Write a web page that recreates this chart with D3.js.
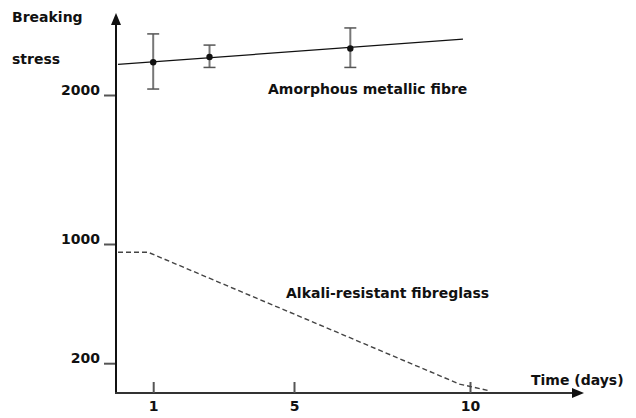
<!DOCTYPE html>
<meta charset="utf-8">
<style>
body { margin: 0; background: #fff; }
text { font-family: "DejaVu Sans", sans-serif; font-weight: bold; font-size: 14px; fill: #111; }
.axis line { stroke: #555; stroke-width: 2; }
.axis path { display: none; }
.axis text { font-family: "DejaVu Sans", sans-serif; font-weight: bold; font-size: 14px; fill: #111; }
</style>
<body>
<script src="https://cdn.jsdelivr.net/npm/d3@7"></script>
<script>

// amorphous metallic fibre measurements (days, breaking stress, error bar ends)
var metalDays = [1, 2.6, 6.6];
var metalStress = [2220, 2255, 2312];
var metalLow = [2040, 2185, 2185];
var metalHigh = [2410, 2335, 2450];
// straight trend line through them
var metalLineDays = [0, 9.8];
var metalLineStress = [2205, 2375];

// alkali-resistant fibreglass (dashed)
var glassDays = [0, 0.85, 9.7, 10.55];
var glassStress = [945, 945, 60, 15];

var xTicks = [1, 5, 10];
var yTicks = [200, 1000, 2000];

var width = 636, height = 418;

var x = d3.scaleLinear().domain([0, 10]).range([118, 470]);
var y = d3.scaleLinear().domain([0, 2000]).range([393, 95]);

var svg = d3.select("body").append("svg")
    .attr("width", width)
    .attr("height", height);

var x0 = 116, y0 = 393;

// axes with arrows
svg.append("line")
    .attr("x1", x0).attr("y1", y0 + 1)
    .attr("x2", x0).attr("y2", 22)
    .attr("stroke", "#111").attr("stroke-width", 2);
svg.append("path")
    .attr("d", "M" + (x0 - 5) + ",25 L" + x0 + ",13 L" + (x0 + 5) + ",25 Z")
    .attr("fill", "#111");

svg.append("line")
    .attr("x1", x0 - 1).attr("y1", y0)
    .attr("x2", 576).attr("y2", y0)
    .attr("stroke", "#333").attr("stroke-width", 2);
svg.append("path")
    .attr("d", "M572," + (y0 - 5) + " L584," + y0 + " L572," + (y0 + 5) + " Z")
    .attr("fill", "#111");

var yAxis = svg.append("g")
    .attr("class", "axis")
    .attr("transform", "translate(" + (x0 - 1) + ",0)")
    .call(d3.axisLeft(y).tickValues(yTicks).tickFormat(d3.format("d")).tickSize(11).tickPadding(4));
yAxis.selectAll("text").attr("dy", "0").attr("y", -1);
yAxis.selectAll("line").attr("stroke-width", 1.5);

var xAxis = svg.append("g")
    .attr("class", "axis")
    .attr("transform", "translate(0," + y0 + ")")
    .call(d3.axisBottom(x).tickValues(xTicks).tickFormat(d3.format("d")).tickSize(-11).tickPadding(8));
xAxis.selectAll("line").attr("stroke-width", 1.5);

// metallic fibre line
svg.append("line")
    .attr("x1", x(metalLineDays[0])).attr("y1", y(metalLineStress[0]))
    .attr("x2", x(metalLineDays[1])).attr("y2", y(metalLineStress[1]))
    .attr("stroke", "#111").attr("stroke-width", 1.3);

var bars = svg.selectAll(".err")
    .data(metalDays)
  .enter().append("g")
    .attr("class", "err");
bars.append("line")
    .attr("x1", function(d) { return x(d); })
    .attr("x2", function(d) { return x(d); })
    .attr("y1", function(d, i) { return y(metalLow[i]); })
    .attr("y2", function(d, i) { return y(metalHigh[i]); })
    .attr("stroke", "#777").attr("stroke-width", 2);
bars.append("line")
    .attr("x1", function(d) { return x(d) - 6; })
    .attr("x2", function(d) { return x(d) + 6; })
    .attr("y1", function(d, i) { return y(metalHigh[i]); })
    .attr("y2", function(d, i) { return y(metalHigh[i]); })
    .attr("stroke", "#555").attr("stroke-width", 1.5);
bars.append("line")
    .attr("x1", function(d) { return x(d) - 6; })
    .attr("x2", function(d) { return x(d) + 6; })
    .attr("y1", function(d, i) { return y(metalLow[i]); })
    .attr("y2", function(d, i) { return y(metalLow[i]); })
    .attr("stroke", "#555").attr("stroke-width", 1.5);
bars.append("circle")
    .attr("cx", function(d) { return x(d); })
    .attr("cy", function(d, i) { return y(metalStress[i]); })
    .attr("r", 3.2)
    .attr("fill", "#111");

// fibreglass dashed line
var glassLine = d3.line()
    .x(function(d, i) { return x(glassDays[i]); })
    .y(function(d, i) { return y(glassStress[i]); });
svg.append("path")
    .attr("d", glassLine(glassDays))
    .attr("fill", "none")
    .attr("stroke", "#444")
    .attr("stroke-width", 1.4)
    .attr("stroke-dasharray", "5,3");

// labels
svg.append("text").text("Breaking").attr("x", 12).attr("y", 22);
svg.append("text").text("stress").attr("x", 12).attr("y", 64);
svg.append("text").text("Amorphous metallic fibre").attr("x", 268).attr("y", 94);
svg.append("text").text("Alkali-resistant fibreglass").attr("x", 286).attr("y", 298);
svg.append("text").text("Time (days)").attr("x", 531).attr("y", 385);

</script>
</body>
